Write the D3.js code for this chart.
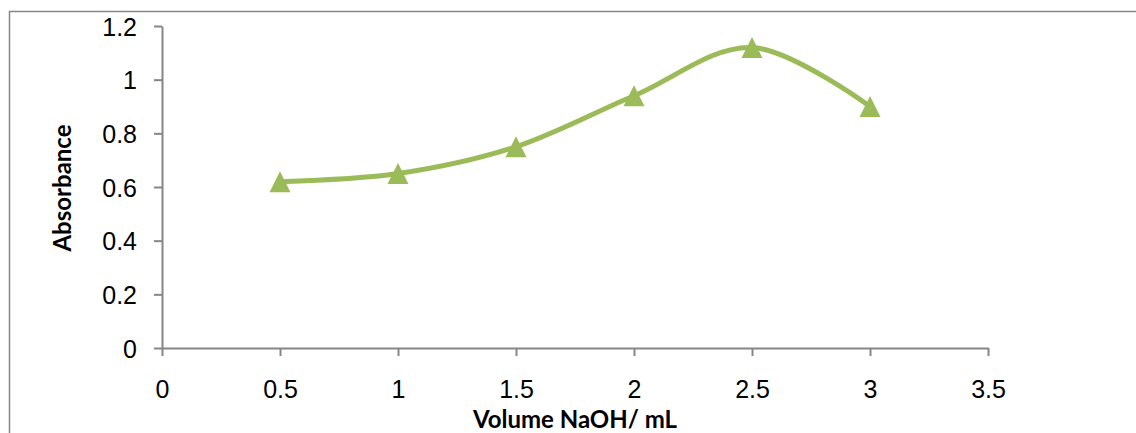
<!DOCTYPE html>
<html>
<head>
<meta charset="utf-8">
<script src="https://cdn.jsdelivr.net/npm/d3@7"></script>
<style>
  html, body { margin: 0; padding: 0; background: #fff; }
  svg { display: block; }
</style>
</head>
<body>
<svg id="chart" width="1136" height="433"></svg>
<script>
// Absorbance measured against added NaOH volume
const volumes = [0.5, 1, 1.5, 2, 2.5, 3];
const absorbance = [0.62, 0.65, 0.75, 0.94, 1.12, 0.90];
const xTicks = [0, 0.5, 1, 1.5, 2, 2.5, 3, 3.5];
const yTicks = [0, 0.2, 0.4, 0.6, 0.8, 1, 1.2];

const svg = d3.select("#chart");
const axisColor = "#868686";
const seriesColor = "#9BBB59";
const tickFont = "'Liberation Sans', Arial, sans-serif";
const titleFont = "Lato, 'Open Sans', sans-serif";

// outer chart frame (runs off the right and bottom edges)
svg.append("rect")
  .attr("x", 9.5).attr("y", 11.5)
  .attr("width", 1200).attr("height", 500)
  .attr("fill", "none").attr("stroke", axisColor).attr("stroke-width", 1.5);

const x = d3.scaleLinear().domain([0, 3.5]).range([162, 988]);
const y = d3.scaleLinear().domain([0, 1.2]).range([348, 26]);

// y axis
const yAxis = svg.append("g")
  .attr("transform", `translate(${x(0)},0)`)
  .call(d3.axisLeft(y).tickValues(yTicks).tickSize(8).tickSizeOuter(0)
    .tickFormat(d3.format("")));
yAxis.attr("font-family", tickFont).attr("font-size", 25);
yAxis.select(".domain").attr("stroke", axisColor).attr("stroke-width", 2);
yAxis.selectAll(".tick line").attr("stroke", axisColor).attr("stroke-width", 2);
yAxis.selectAll(".tick text")
  .attr("x", -25).attr("dy", "0.36em").attr("fill", "#000");

// x axis
const xAxis = svg.append("g")
  .attr("transform", `translate(0,${y(0)})`)
  .call(d3.axisBottom(x).tickValues(xTicks).tickSize(8).tickSizeOuter(0)
    .tickFormat(d3.format("")));
xAxis.attr("font-family", tickFont).attr("font-size", 25);
xAxis.select(".domain").attr("stroke", axisColor).attr("stroke-width", 2);
xAxis.selectAll(".tick line").attr("stroke", axisColor).attr("stroke-width", 2);
xAxis.selectAll(".tick text")
  .attr("y", 41).attr("dy", "0.36em").attr("fill", "#000");

// smoothed series line
const line = d3.line()
  .x((d, i) => x(volumes[i]))
  .y(d => y(d))
  .curve(d3.curveCatmullRom.alpha(0));

svg.append("path")
  .datum(absorbance)
  .attr("d", line)
  .attr("fill", "none")
  .attr("stroke", seriesColor)
  .attr("stroke-width", 5)
  .attr("stroke-linejoin", "round");

// triangle markers, 21 px wide and tall, centred on each point
const tw = 21, th = 21;
const triPath = `M0,${-th / 2}L${tw / 2},${th / 2}L${-tw / 2},${th / 2}Z`;
svg.selectAll("path.marker")
  .data(absorbance)
  .join("path")
  .attr("class", "marker")
  .attr("d", triPath)
  .attr("transform", (d, i) => `translate(${x(volumes[i])},${y(d)})`)
  .attr("fill", seriesColor);

// axis titles
svg.append("text")
  .attr("x", 575).attr("y", 428)
  .attr("text-anchor", "middle")
  .attr("font-family", titleFont)
  .attr("font-size", 24).attr("font-weight", "bold")
  .text("Volume NaOH/ mL");

svg.append("text")
  .attr("transform", "translate(71,188) rotate(-90)")
  .attr("text-anchor", "middle")
  .attr("font-family", titleFont)
  .attr("font-size", 24).attr("font-weight", "bold")
  .text("Absorbance");
</script>
</body>
</html>
